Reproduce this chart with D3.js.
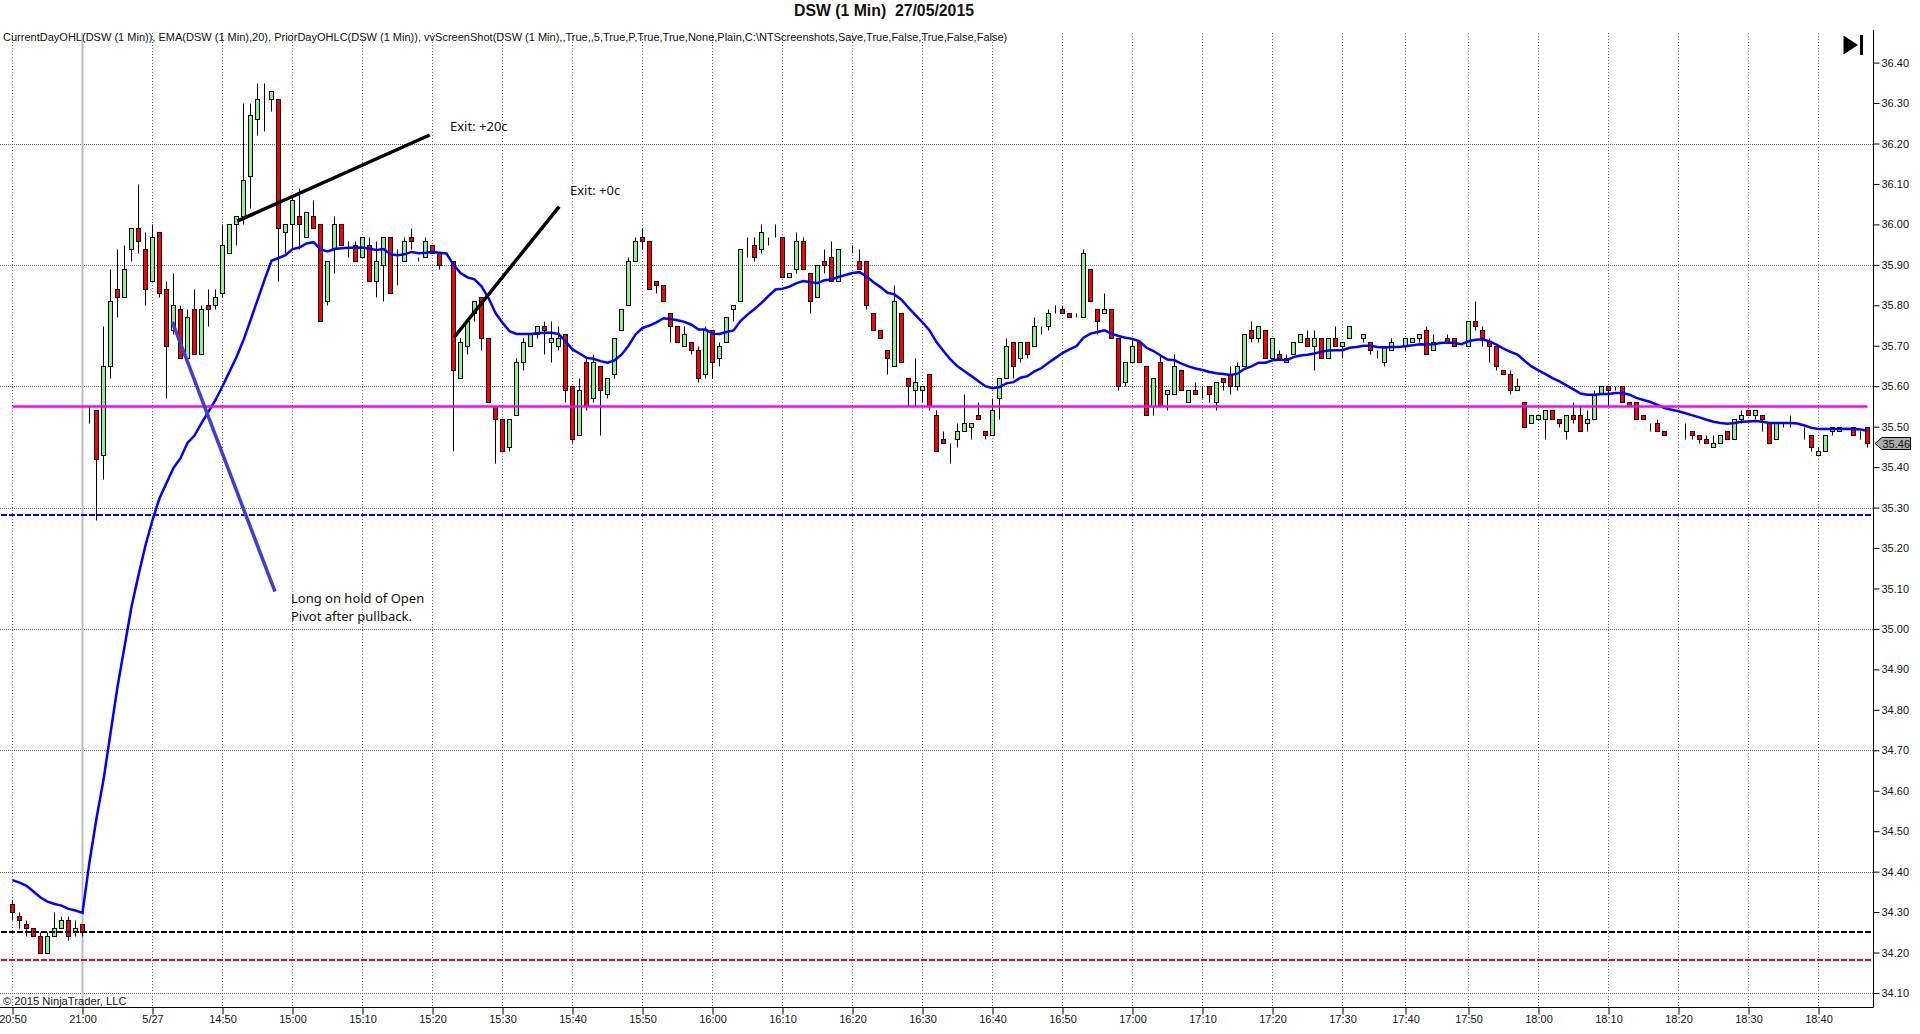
<html>
  <head>
    <meta charset="utf-8">
    <script src="https://d3js.org/d3.v7.min.js"></script>
    <style>
      body { margin: 0; background: #fff; }
      svg { display: block; }
      text { font-family: "Liberation Sans", Arial, sans-serif; fill: #111; }
      .note { font-family: "Noto Sans", sans-serif; font-size: 13px; }
    </style>
  </head>

  <body>
    <script type="text/javascript">
      var title = "DSW (1 Min)  27/05/2015";
      var indicators = "CurrentDayOHL(DSW (1 Min)), EMA(DSW (1 Min),20), PriorDayOHLC(DSW (1 Min)), vvScreenShot(DSW (1 Min),,True,,5,True,P,True,True,None,Plain,C:\\NTScreenshots,Save,True,False,True,False,False)";
      var copyright = "\u00A9 2015 NinjaTrader, LLC";

      var opens = [
        34.32,34.29,34.27,34.26,34.24,34.20,34.24,34.26,34.28,34.25,
        34.27,35.55,35.54,35.43,35.65,35.84,35.82,35.94,35.99,35.94,
        35.86,35.98,35.84,35.74,35.79,35.67,35.79,35.68,35.80,35.80,
        35.83,35.93,36.00,36.02,36.12,36.26,36.31,36.31,36.31,35.98,
        36.00,36.02,35.97,36.02,36.00,35.81,35.94,36.00,35.96,35.95,
        35.92,35.95,35.86,35.90,35.97,35.90,35.91,35.97,35.92,35.92,
        35.95,35.93,35.90,35.91,35.62,35.70,35.78,35.82,35.72,35.55,
        35.52,35.45,35.53,35.66,35.70,35.73,35.75,35.71,35.70,35.73,
        35.60,35.48,35.66,35.57,35.65,35.58,35.63,35.74,35.80,35.91,
        35.97,35.96,35.86,35.85,35.78,35.75,35.70,35.71,35.69,35.63,
        35.74,35.67,35.71,35.79,35.81,35.95,35.95,35.94,35.97,35.97,
        35.97,35.87,35.89,35.96,35.88,35.82,35.91,35.92,35.86,35.92,
        35.94,35.91,35.91,35.78,35.74,35.69,35.65,35.78,35.62,35.59,
        35.59,35.63,35.53,35.47,35.45,35.47,35.49,35.50,35.53,35.49,
        35.48,35.57,35.62,35.71,35.67,35.71,35.70,35.75,35.75,35.79,
        35.79,35.78,35.78,35.77,35.89,35.79,35.78,35.79,35.72,35.61,
        35.66,35.71,35.65,35.55,35.66,35.58,35.58,35.64,35.56,35.59,
        35.60,35.60,35.56,35.62,35.63,35.60,35.65,35.74,35.72,35.74,
        35.67,35.68,35.66,35.68,35.71,35.72,35.70,35.72,35.67,35.72,
        35.70,35.72,35.72,35.72,35.71,35.68,35.66,35.69,35.69,35.70,
        35.71,35.72,35.74,35.69,35.73,35.72,35.72,35.70,35.70,35.76,
        35.74,35.71,35.70,35.64,35.63,35.59,35.56,35.51,35.52,35.52,
        35.54,35.52,35.49,35.53,35.53,35.51,35.52,35.58,35.60,35.59,
        35.60,35.56,35.56,35.53,35.51,35.51,35.49,35.50,35.51,35.50,
        35.49,35.48,35.47,35.45,35.46,35.49,35.47,35.52,35.54,35.53,
        35.53,35.51,35.47,35.51,35.50,35.50,35.49,35.48,35.43,35.44,
        35.49,35.49,35.50,35.50,35.48,35.50
      ];
      var highs = [
        34.33,34.30,34.28,34.26,34.25,34.25,34.30,34.29,34.29,34.28,
        34.27,35.55,35.54,35.75,35.89,35.94,35.95,35.99,36.10,35.98,
        36.00,35.98,35.86,35.88,35.80,35.79,35.84,35.80,35.84,35.84,
        36.00,36.00,36.02,36.30,36.30,36.35,36.35,36.33,36.31,36.00,
        36.07,36.09,36.03,36.06,36.00,35.91,36.02,36.00,35.96,35.96,
        35.97,35.97,35.96,35.97,35.97,35.94,35.97,35.99,35.92,35.97,
        35.95,35.93,35.90,35.91,35.72,35.76,35.81,35.82,35.72,35.55,
        35.52,35.52,35.67,35.72,35.73,35.75,35.76,35.76,35.75,35.73,
        35.60,35.62,35.67,35.68,35.65,35.62,35.72,35.79,35.92,35.97,
        35.99,35.96,35.86,35.85,35.78,35.75,35.75,35.71,35.70,35.75,
        35.74,35.71,35.77,35.80,35.94,35.97,35.97,36.00,35.97,36.00,
        35.97,35.88,35.98,35.97,35.88,35.90,35.94,35.96,35.94,35.92,
        35.95,35.94,35.91,35.78,35.74,35.69,35.85,35.78,35.62,35.67,
        35.60,35.63,35.54,35.49,35.46,35.51,35.58,35.51,35.56,35.49,
        35.57,35.62,35.72,35.71,35.71,35.71,35.77,35.75,35.79,35.80,
        35.80,35.78,35.78,35.94,35.89,35.79,35.83,35.79,35.72,35.66,
        35.72,35.71,35.65,35.62,35.68,35.59,35.68,35.64,35.59,35.61,
        35.60,35.60,35.61,35.62,35.65,35.66,35.73,35.76,35.75,35.74,
        35.72,35.69,35.68,35.71,35.73,35.74,35.74,35.72,35.72,35.75,
        35.71,35.75,35.72,35.73,35.71,35.69,35.70,35.72,35.69,35.72,
        35.72,35.73,35.75,35.73,35.73,35.73,35.72,35.70,35.76,35.81,
        35.75,35.72,35.70,35.64,35.64,35.62,35.56,35.53,35.53,35.54,
        35.54,35.52,35.53,35.56,35.55,35.54,35.59,35.60,35.60,35.60,
        35.60,35.56,35.56,35.53,35.51,35.52,35.49,35.50,35.51,35.51,
        35.49,35.48,35.48,35.48,35.48,35.49,35.52,35.54,35.54,35.54,
        35.53,35.51,35.51,35.51,35.53,35.50,35.50,35.48,35.45,35.48,
        35.50,35.50,35.50,35.50,35.49,35.50
      ];
      var lows = [
        34.28,34.26,34.24,34.24,34.20,34.20,34.24,34.26,34.23,34.24,
        34.24,35.51,35.27,35.37,35.62,35.77,35.82,35.91,35.93,35.80,
        35.86,35.82,35.57,35.73,35.67,35.67,35.68,35.68,35.75,35.79,
        35.82,35.93,35.95,36.00,36.04,36.22,36.23,36.28,35.86,35.93,
        35.94,35.94,35.97,35.99,35.76,35.80,35.88,35.95,35.92,35.91,
        35.92,35.86,35.82,35.81,35.83,35.85,35.91,35.94,35.91,35.92,
        35.93,35.89,35.90,35.44,35.62,35.68,35.76,35.69,35.56,35.41,
        35.44,35.44,35.53,35.64,35.70,35.72,35.68,35.66,35.69,35.56,
        35.46,35.48,35.54,35.56,35.48,35.57,35.62,35.74,35.80,35.91,
        35.94,35.84,35.83,35.81,35.71,35.71,35.70,35.68,35.61,35.62,
        35.62,35.65,35.71,35.76,35.81,35.92,35.91,35.93,35.95,35.97,
        35.87,35.87,35.88,35.89,35.78,35.82,35.88,35.86,35.86,35.92,
        35.93,35.89,35.79,35.74,35.72,35.63,35.65,35.66,35.55,35.55,
        35.56,35.54,35.44,35.46,35.41,35.45,35.49,35.47,35.52,35.47,
        35.48,35.52,35.62,35.62,35.66,35.67,35.70,35.73,35.74,35.78,
        35.78,35.77,35.77,35.77,35.81,35.73,35.78,35.72,35.59,35.60,
        35.66,35.66,35.53,35.53,35.55,35.54,35.58,35.59,35.56,35.58,
        35.57,35.56,35.54,35.59,35.58,35.59,35.65,35.71,35.71,35.67,
        35.67,35.67,35.66,35.68,35.71,35.70,35.64,35.67,35.67,35.70,
        35.67,35.72,35.72,35.71,35.68,35.67,35.65,35.69,35.69,35.69,
        35.71,35.71,35.68,35.69,35.73,35.71,35.70,35.70,35.70,35.74,
        35.70,35.66,35.64,35.63,35.58,35.59,35.50,35.51,35.52,35.47,
        35.52,35.50,35.47,35.51,35.49,35.49,35.52,35.58,35.55,35.59,
        35.56,35.55,35.52,35.52,35.49,35.49,35.48,35.50,35.51,35.47,
        35.47,35.46,35.46,35.45,35.46,35.47,35.47,35.51,35.53,35.52,
        35.49,35.46,35.47,35.50,35.50,35.50,35.47,35.44,35.43,35.44,
        35.48,35.49,35.50,35.48,35.47,35.45
      ];
      var closes = [
        34.30,34.28,34.26,34.24,34.20,34.24,34.26,34.28,34.24,34.26,
        34.25,35.55,35.42,35.65,35.81,35.82,35.89,35.99,35.96,35.84,
        35.97,35.83,35.70,35.80,35.67,35.77,35.68,35.79,35.79,35.82,
        35.95,36.00,36.02,36.11,36.27,36.31,36.31,36.33,35.99,36.00,
        36.06,36.00,36.03,35.99,35.76,35.91,36.00,35.95,35.96,35.91,
        35.97,35.86,35.91,35.97,35.83,35.90,35.96,35.96,35.92,35.96,
        35.93,35.90,35.90,35.64,35.71,35.76,35.81,35.72,35.56,35.52,
        35.44,35.52,35.66,35.71,35.73,35.75,35.74,35.72,35.72,35.59,
        35.47,35.59,35.55,35.66,35.59,35.62,35.72,35.79,35.91,35.96,
        35.96,35.84,35.85,35.81,35.75,35.71,35.73,35.69,35.62,35.74,
        35.66,35.70,35.77,35.80,35.94,35.95,35.92,35.98,35.97,35.97,
        35.87,35.88,35.96,35.89,35.81,35.90,35.90,35.86,35.94,35.92,
        35.94,35.89,35.80,35.74,35.72,35.67,35.81,35.66,35.60,35.61,
        35.60,35.55,35.44,35.46,35.45,35.49,35.51,35.51,35.52,35.48,
        35.54,35.62,35.70,35.65,35.71,35.68,35.75,35.75,35.78,35.79,
        35.78,35.77,35.78,35.93,35.81,35.76,35.79,35.72,35.60,35.66,
        35.70,35.66,35.53,35.62,35.55,35.59,35.65,35.59,35.59,35.58,
        35.60,35.58,35.61,35.61,35.60,35.65,35.73,35.72,35.75,35.67,
        35.72,35.67,35.67,35.71,35.73,35.70,35.72,35.67,35.72,35.70,
        35.71,35.75,35.72,35.73,35.69,35.68,35.70,35.71,35.69,35.72,
        35.72,35.73,35.68,35.71,35.73,35.71,35.70,35.70,35.76,35.75,
        35.72,35.70,35.65,35.63,35.59,35.60,35.50,35.53,35.53,35.54,
        35.52,35.51,35.53,35.52,35.49,35.52,35.58,35.60,35.59,35.59,
        35.56,35.55,35.52,35.52,35.51,35.49,35.48,35.50,35.51,35.50,
        35.48,35.47,35.46,35.46,35.48,35.47,35.52,35.53,35.53,35.54,
        35.52,35.46,35.51,35.51,35.50,35.50,35.49,35.45,35.44,35.48,
        35.50,35.50,35.50,35.48,35.48,35.46
      ];
      var ema = [
        34.379,34.373,34.365,34.351,34.336,34.326,34.32,34.316,34.308,34.304,
        34.298,34.424,34.532,34.627,34.742,34.857,34.956,35.055,35.133,35.207,
        35.269,35.323,35.361,35.398,35.422,35.46,35.478,35.509,35.537,35.566,
        35.60,35.636,35.672,35.714,35.763,35.813,35.863,35.91,35.917,35.924,
        35.939,35.943,35.953,35.956,35.938,35.933,35.939,35.941,35.942,35.942,
        35.943,35.94,35.937,35.939,35.926,35.924,35.926,35.932,35.929,35.93,
        35.932,35.93,35.928,35.90,35.88,35.869,35.864,35.847,35.818,35.781,
        35.757,35.736,35.729,35.729,35.729,35.731,35.732,35.732,35.729,35.711,
        35.691,35.681,35.67,35.668,35.662,35.658,35.664,35.678,35.70,35.728,
        35.744,35.75,35.758,35.768,35.766,35.763,35.759,35.752,35.74,35.74,
        35.73,35.729,35.734,35.738,35.761,35.777,35.791,35.806,35.823,35.839,
        35.841,35.846,35.855,35.86,35.857,35.855,35.862,35.864,35.87,35.875,
        35.88,35.882,35.872,35.857,35.845,35.831,35.827,35.814,35.794,35.776,
        35.758,35.738,35.709,35.687,35.666,35.649,35.637,35.625,35.612,35.60,
        35.595,35.598,35.607,35.61,35.621,35.625,35.637,35.645,35.658,35.67,
        35.682,35.691,35.699,35.72,35.73,35.734,35.738,35.73,35.724,35.72,
        35.717,35.711,35.695,35.687,35.676,35.666,35.664,35.656,35.649,35.644,
        35.64,35.635,35.632,35.63,35.628,35.631,35.643,35.649,35.658,35.658,
        35.664,35.666,35.664,35.672,35.676,35.678,35.681,35.685,35.688,35.689,
        35.689,35.695,35.697,35.70,35.70,35.697,35.696,35.697,35.697,35.699,
        35.701,35.704,35.703,35.704,35.707,35.708,35.707,35.704,35.711,35.715,
        35.716,35.711,35.703,35.693,35.685,35.678,35.663,35.649,35.639,35.63,
        35.62,35.612,35.602,35.592,35.582,35.579,35.579,35.581,35.581,35.583,
        35.583,35.579,35.571,35.566,35.561,35.554,35.546,35.542,35.538,35.533,
        35.528,35.523,35.517,35.512,35.509,35.507,35.509,35.512,35.513,35.514,
        35.512,35.509,35.509,35.509,35.509,35.508,35.503,35.497,35.494,35.494,
        35.494,35.494,35.495,35.494,35.493,35.49
      ];

      var tickBars = [0,10,20,30,40,50,60,70,80,90,100,110,120,130,140,150,160,170,180,190,199,208,218,228,238,248,258];
      var tickLabels = ["20:50","21:00","5/27","14:50","15:00","15:10","15:20","15:30","15:40","15:50","16:00","16:10","16:20","16:30","16:40","16:50","17:00","17:10","17:20","17:30","17:40","17:50","18:00","18:10","18:20","18:30","18:40"];
      var sessionBreak = 10;
      var priceTicks = d3.range(341,365).map(d => d/10);
      var gridPrices = [36.2,35.9,35.6,35.3,35.0,34.7,34.4,34.1];

      var openPivot = 35.55;
      var priorLevels = [35.28,34.25,34.18];
      var priorColors = ["#0000ff","#000","#ff0000"];
      var lastPrice = 35.46;

      // hand drawn lines on the chart, [bar, price]
      var exitLine20 = [[32.1,36.008],[59.6,36.221]];
      var exitLine0 = [[63.1,35.721],[78.1,36.044]];
      var entryLine = [[22.83,35.759],[37.5,35.092]];

      var w = 1920;
      var h = 1034;
      var plotRight = 1873.5;
      var plotBottom = 1007.5;
      var plotTop = 33;

      var x = d3.scaleLinear().domain([0,265]).range([12.5,1867.5]);
      var y = d3.scaleLinear().domain([36.2,34.1]).range([143.5,993]);
      var py = p => Math.round(y(p)) + 0.5;

      var svg = d3.select("body").append("svg")
        .attr("width",w)
        .attr("height",h);

//grid
      svg.append("g").selectAll("line").data(gridPrices).enter().append("line")
        .attr("x1",0).attr("x2",plotRight)
        .attr("y1",py).attr("y2",py)
        .attr("stroke","#666")
        .attr("stroke-dasharray","1,1");

      svg.append("g").selectAll("line").data(tickBars).enter().append("line")
        .attr("x1",d => x(d)).attr("x2",d => x(d))
        .attr("y1",plotTop).attr("y2",plotBottom)
        .attr("stroke",d => d==sessionBreak ? "#bbb" : "#666")
        .attr("stroke-width",d => d==sessionBreak ? 2 : 1)
        .attr("stroke-dasharray",d => d==sessionBreak ? null : "1,2");

//candles
      var candle = svg.append("g").selectAll("g").data(opens).enter().append("g");

      candle.append("line")
        .attr("x1",(d,i) => x(i)).attr("x2",(d,i) => x(i))
        .attr("y1",(d,i) => py(highs[i])).attr("y2",(d,i) => py(lows[i]))
        .attr("stroke","#000");

      candle.append("rect")
        .attr("x",(d,i) => x(i)-2)
        .attr("y",(d,i) => py(Math.max(d,closes[i])))
        .attr("width",4)
        .attr("height",(d,i) => py(Math.min(d,closes[i])) - py(Math.max(d,closes[i])))
        .attr("fill",(d,i) => closes[i]>=d ? "#90ee90" : "#ff0000")
        .attr("stroke","#000");

//ema
      var emaLine = d3.line().x((d,i) => x(i)).y(d => y(d));
      svg.append("path").datum(ema)
        .attr("fill","none")
        .attr("stroke","#0000ff")
        .attr("stroke-width",2.5)
        .attr("d",emaLine);

//day levels
      svg.append("line")
        .attr("x1",x(0)).attr("x2",x(265))
        .attr("y1",py(openPivot)).attr("y2",py(openPivot))
        .attr("stroke","#ff00ff")
        .attr("stroke-width",2.5);

      svg.append("g").selectAll("line").data(priorLevels).enter().append("line")
        .attr("x1",1).attr("x2",plotRight)
        .attr("y1",d => Math.floor(y(d))).attr("y2",d => Math.floor(y(d)))
        .attr("stroke",(d,i) => priorColors[i])
        .attr("stroke-width",2)
        .attr("stroke-dasharray","6,2");

//drawn lines
      var drawn = d3.line().x(d => x(d[0])).y(d => y(d[1]));
      svg.append("path").datum(entryLine)
        .attr("stroke","#4040d0").attr("stroke-width",3.5).attr("d",drawn);
      svg.append("path").datum(exitLine20)
        .attr("stroke","#000").attr("stroke-width",3.5).attr("d",drawn);
      svg.append("path").datum(exitLine0)
        .attr("stroke","#000").attr("stroke-width",3.5).attr("d",drawn);

      svg.append("text").attr("class","note").attr("x",450).attr("y",131).text("Exit: +20c");
      svg.append("text").attr("class","note").attr("x",570).attr("y",195).text("Exit: +0c");
      svg.append("text").attr("class","note").attr("x",291).attr("y",603).text("Long on hold of Open");
      svg.append("text").attr("class","note").attr("x",291).attr("y",621).text("Pivot after pullback.");

//axes
      var yAxis = d3.axisRight(y).tickValues(priceTicks).tickSize(6).tickPadding(2).tickFormat(d3.format(".2f"));
      var yg = svg.append("g").attr("transform","translate(" + plotRight + ",0)").call(yAxis);
      yg.select(".domain").remove();
      yg.selectAll("text").style("font-size","11px").style("font-family","Liberation Sans");
      svg.append("line")
        .attr("x1",plotRight).attr("x2",plotRight)
        .attr("y1",30).attr("y2",plotBottom)
        .attr("stroke","#000");

      var xAxis = d3.axisBottom(x).tickValues(tickBars).tickSize(7).tickPadding(1)
        .tickFormat((d,i) => tickLabels[i]);
      var xg = svg.append("g").attr("transform","translate(0," + plotBottom + ")").call(xAxis);
      xg.select(".domain").remove();
      xg.selectAll("text").style("font-size","11px").style("font-family","Liberation Sans");
      svg.append("line")
        .attr("x1",0).attr("x2",plotRight)
        .attr("y1",plotBottom).attr("y2",plotBottom)
        .attr("stroke","#000");

//last price marker
      var my = py(lastPrice);
      svg.append("path")
        .attr("d","M1875," + my + "L1882," + (my-6) + "H1910.5V" + (my+6) + "H1882Z")
        .attr("fill","#aaa")
        .attr("stroke","#000");
      svg.append("text")
        .attr("x",1882.5).attr("y",my+4)
        .style("font-size","11px")
        .text(d3.format(".2f")(lastPrice));

//headings
      svg.append("text")
        .attr("x",884).attr("y",16)
        .attr("text-anchor","middle")
        .style("font-size","15.8px")
        .style("font-weight","bold")
        .style("white-space","pre")
        .text(title);

      svg.append("text")
        .attr("x",3).attr("y",41)
        .style("font-size","11.03px")
        .text(indicators);

      svg.append("text")
        .attr("x",3).attr("y",1004.5)
        .style("font-size","11.2px")
        .text(copyright);

//go to last bar button
      svg.append("path").attr("d","M1843.5,35.5L1858,45L1843.5,54.5Z").attr("fill","#000");
      svg.append("rect").attr("x",1860).attr("y",35).attr("width",3).attr("height",20).attr("fill","#000");
    </script>
  </body>
</html>
